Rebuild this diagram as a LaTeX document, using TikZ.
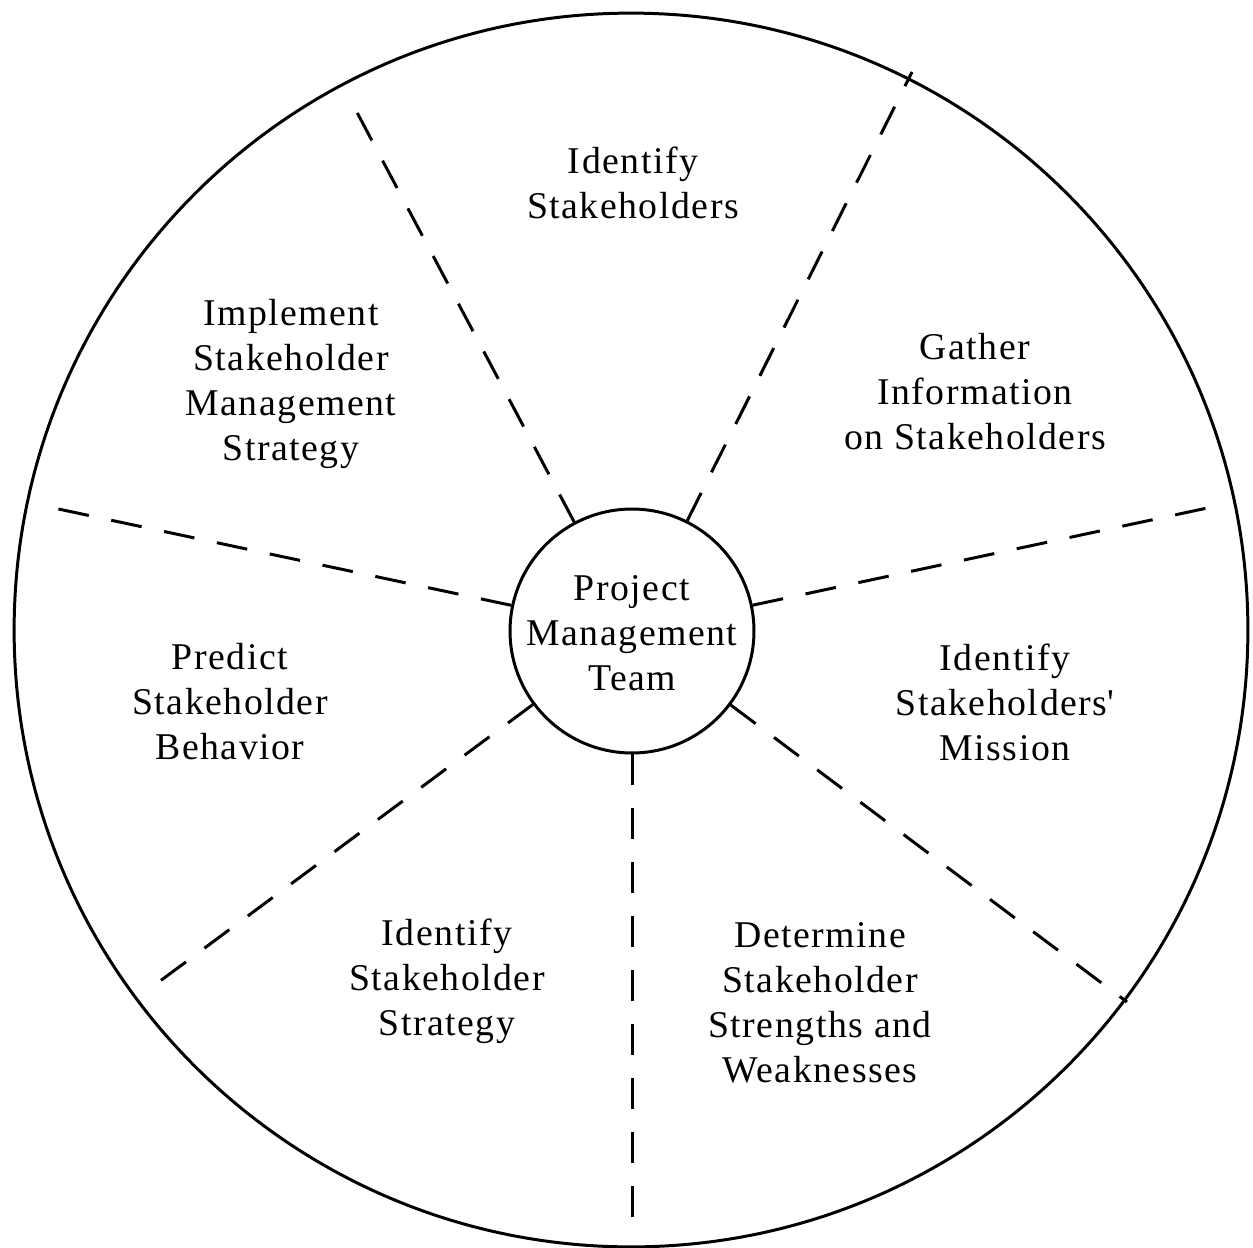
\documentclass[tikz,border=0pt]{standalone}
\usepackage{fontspec}
\setmainfont[LetterSpace=4]{Liberation Serif}
\begin{document}
\begin{tikzpicture}[x=0.02cm,y=-0.02cm,
  ring/.style={draw, circle, line width=1.7pt, inner sep=0pt},
  spoke/.style={line width=1.7pt, dash pattern=on 0.62cm off 0.46cm},
  lbl/.style={align=center, font=\fontsize{21.5}{25.6}\selectfont, inner sep=0pt}]
\useasboundingbox (0,0) rectangle (1253,1247);
\node[ring, minimum size=24.68cm] (outer) at (631,630) {};
\node[ring, minimum size=4.88cm] (inner) at (632,631) {};
\node[lbl] (pmt) at (632,633) {Project\\Management\\Team};
% spoke end points
\coordinate (e1) at (352,103);
\coordinate (e2) at (912,72);
\coordinate (e3) at (1212,507);
\coordinate (e4) at (1127,1002);
\coordinate (e5) at (632,1218);
\coordinate (e6) at (148,990);
\coordinate (e7) at (49,507);
\foreach \e in {e1,e2,e3,e4,e5,e6,e7}
  \draw[spoke] (inner) -- (\e);
% labels
\node[lbl] (t1) at (633,183) {Identify\\Stakeholders};
\node[lbl] (t2) at (975,392) {Gather\\Information\\on Stakeholders};
\node[lbl] (t3) at (291,384) {Implement\\Stakeholder\\Management\\Strategy};
\node[lbl] (t4) at (230,702) {Predict\\Stakeholder\\Behavior};
\node[lbl] (t5) at (1005,702) {Identify\\Stakeholders\textquotesingle\\Mission};
\node[lbl] (t6) at (447,981) {Identify\\Stakeholder\\Strategy};
\node[lbl] (t7) at (820,1003) {Determine\\Stakeholder\\Strengths and\\Weaknesses};
\end{tikzpicture}
\end{document}
